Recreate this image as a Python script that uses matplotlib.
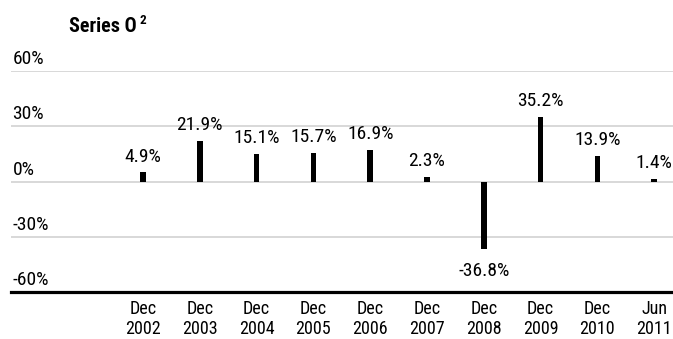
import matplotlib.pyplot as plt
from matplotlib.transforms import blended_transform_factory

periods = ["Dec\n2002", "Dec\n2003", "Dec\n2004", "Dec\n2005", "Dec\n2006",
           "Dec\n2007", "Dec\n2008", "Dec\n2009", "Dec\n2010", "Jun\n2011"]
returns = [4.9, 21.9, 15.1, 15.7, 16.9, 2.3, -36.8, 35.2, 13.9, 1.4]
yticks = [60, 30, 0, -30, -60]

plt.rcParams['font.family'] = ['Roboto Condensed', 'Liberation Sans Narrow', 'Roboto', 'DejaVu Sans']

fig = plt.figure(figsize=(6.73, 3.39), dpi=100)
ax = fig.add_axes([11/673, 1-292/339, 662/673, 221/339])

x = list(range(len(returns)))
ax.bar(x, returns, width=0.1, color="black", zorder=3)

for xi, v in zip(x, returns):
    if v >= 0:
        ax.annotate(f"{v:.1f}%", (xi, v), xytext=(0, 5), textcoords="offset points",
                    ha="center", va="bottom", fontsize=14)
    else:
        ax.annotate(f"{v:.1f}%", (xi, v), xytext=(0, -9), textcoords="offset points",
                    ha="center", va="top", fontsize=14)

ax.set_xlim(-2.324, 9.331)
ax.set_ylim(-60, 60)

trans = blended_transform_factory(ax.transAxes, ax.transData)
for t in yticks:
    if t == -60:
        ax.axhline(t, color="black", lw=2.3, zorder=4, clip_on=False)
    else:
        ax.axhline(t, color="#d6d6d6", lw=1.3, zorder=1)
    ax.annotate(f"{t}%", (0.0, t), xycoords=trans, xytext=(1, 2),
                textcoords="offset points", ha="left", va="bottom", fontsize=14)

ax.set_xticks(x)
ax.set_xticklabels(periods, fontsize=13, linespacing=1.12)
ax.tick_params(axis="x", length=0, pad=6)
ax.set_yticks([])
for s in ax.spines.values():
    s.set_visible(False)

fig.text(69/673, 1-27/339, "Series O", fontsize=14.5, fontweight="bold",
         ha="left", va="center")
fig.text(140/673, 1-21/339, "2", fontsize=9.5, fontweight="bold",
         ha="left", va="center")

fig.savefig("out.png", dpi=100)
